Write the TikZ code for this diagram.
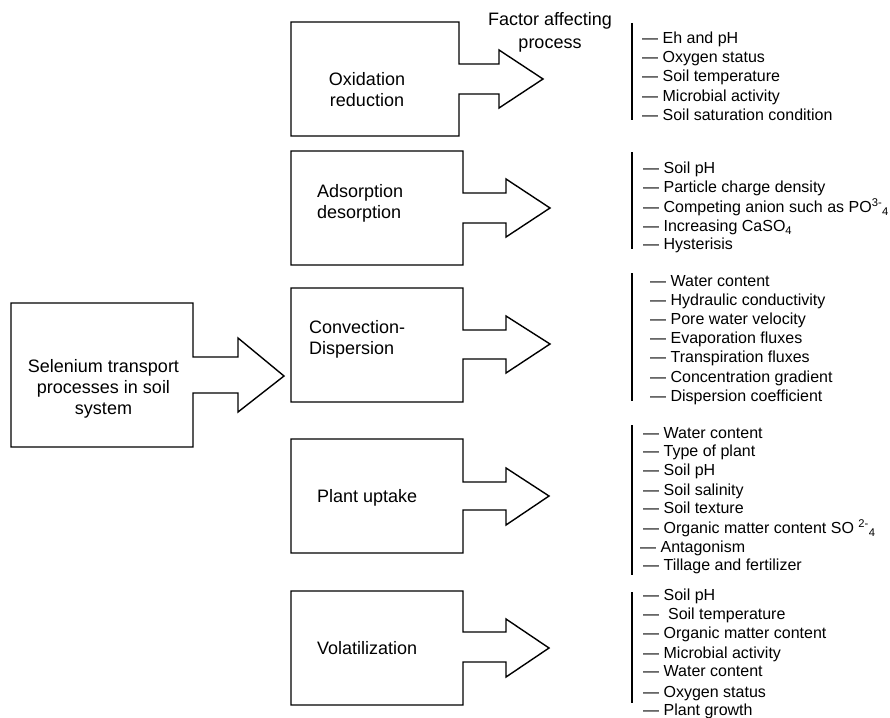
\documentclass[tikz,border=0pt]{standalone}
\usepackage{fontspec}
\setmainfont{Liberation Sans}
\begin{document}
\begin{tikzpicture}[x=1pt,y=-1pt,
  shapeline/.style={draw=black,line width=1.4pt,line join=miter},
  barline/.style={draw=black,line width=1.6pt},
  lbl/.style={inner sep=0pt,font=\fontsize{18}{21}\selectfont},
  item/.style={inner sep=0pt,anchor=base west,font=\fontsize{16}{19}\selectfont}]
\useasboundingbox (0,0) rectangle (890,717);
\fill[white] (0,0) rectangle (890,717);
% box-arrow: left, top, right, bottom, stemtop, stembot, headx, headtop, headbot, tipx, tipy
\newcommand{\boxarrow}[9]{%
  \draw[shapeline] (#1,#2) -- (#3,#2) -- (#3,#5) -- (#7,#5) -- (#7,#8) -- (#9) -- (#7,\hb) -- (#7,#6) -- (#3,#6) -- (#3,#4) -- (#1,#4) -- cycle;}
% main
\coordinate (t0) at (284,376);
\def\hb{412}\boxarrow{11}{303}{193}{447}{357}{393}{238}{338}{t0}
\coordinate (t1) at (543,79);
\def\hb{108}\boxarrow{291}{22}{459}{136}{64}{94}{499}{50}{t1}
\coordinate (t2) at (550,208);
\def\hb{237}\boxarrow{291}{151}{463}{265}{193}{223}{506}{179}{t2}
\coordinate (t3) at (550,344);
\def\hb{373}\boxarrow{291}{288}{463}{402}{330}{359}{506}{316}{t3}
\coordinate (t4) at (549,496);
\def\hb{525}\boxarrow{291}{439}{463}{553}{482}{510}{506}{468}{t4}
\coordinate (t5) at (549,648);
\def\hb{677}\boxarrow{291}{591}{463}{705}{632}{662}{506}{619}{t5}

% labels
\node[lbl,align=center] (main) at (103.5,389) {Selenium transport\\processes in soil\\system};
\node[lbl,align=center,font=\fontsize{18}{23}\selectfont] (title) at (550,32) {Factor affecting\\process};
\node[lbl,align=center] (ox) at (367,89.5) {Oxidation\\reduction};
\node[lbl,align=left,anchor=west] (ad) at (317,203) {Adsorption\\desorption};
\node[lbl,align=left,anchor=west] (cd) at (309,339) {Convection-\\Dispersion};
\node[lbl,anchor=base west] (pu) at (317,502.5) {Plant uptake};
\node[lbl,anchor=base west] (vo) at (317,654.5) {Volatilization};

% bars
\coordinate (b1a) at (632,23);  \coordinate (b1b) at (632,120);
\coordinate (b2a) at (632,152); \coordinate (b2b) at (632,249);
\coordinate (b3a) at (632,273); \coordinate (b3b) at (632,401);
\coordinate (b4a) at (632,425); \coordinate (b4b) at (632,575);
\coordinate (b5a) at (632,592); \coordinate (b5b) at (632,703);
\foreach \i in {1,...,5} \draw[barline] (b\i a) -- (b\i b);

% lists
\foreach \y/\t [count=\k] in {38/Eh and pH,57/Oxygen status,76/Soil temperature,96/Microbial activity,115/Soil saturation condition}
  \node[item] (a\k) at (642,\y+5.5) {— \t};
\node[item] (b1) at (643,168+5.5) {— Soil pH};
\node[item] (b2) at (643,187+5.5) {— Particle charge density};
\node[item] (b3) at (643,207+5.5) {— Competing anion such as PO\textsuperscript{3-}\textsubscript{4}};
\node[item] (b4) at (643,226+5.5) {— Increasing CaSO\textsubscript{4}};
\node[item] (b5) at (643,244+5.5) {— Hysterisis};
\foreach \y/\t [count=\k] in {281/Water content,300/Hydraulic conductivity,319/Pore water velocity,338/Evaporation fluxes,357/Transpiration fluxes,377/Concentration gradient,396/Dispersion coefficient}
  \node[item] (c\k) at (650,\y+5.5) {— \t};
\foreach \y/\t [count=\k] in {433/Water content,451/Type of plant,470/Soil pH,490/Soil salinity,508/Soil texture}
  \node[item] (d\k) at (643,\y+5.5) {— \t};
\node[item] (d6) at (643,528+5.5) {— Organic matter content SO \textsuperscript{2-}\textsubscript{4}};
\node[item] (d7) at (640,547+5.5) {— Antagonism};
\node[item] (d8) at (643,565+5.5) {— Tillage and fertilizer};
\node[item] (e1) at (643,595+5.5) {— Soil pH};
\node[item] (e2) at (643,614+5.5) {—\ \ Soil temperature};
\foreach \y/\t [count=\k from 3] in {633/Organic matter content,653/Microbial activity,671/Water content,692/Oxygen status,710/Plant growth}
  \node[item] (e\k) at (643,\y+5.5) {— \t};
\end{tikzpicture}
\end{document}
